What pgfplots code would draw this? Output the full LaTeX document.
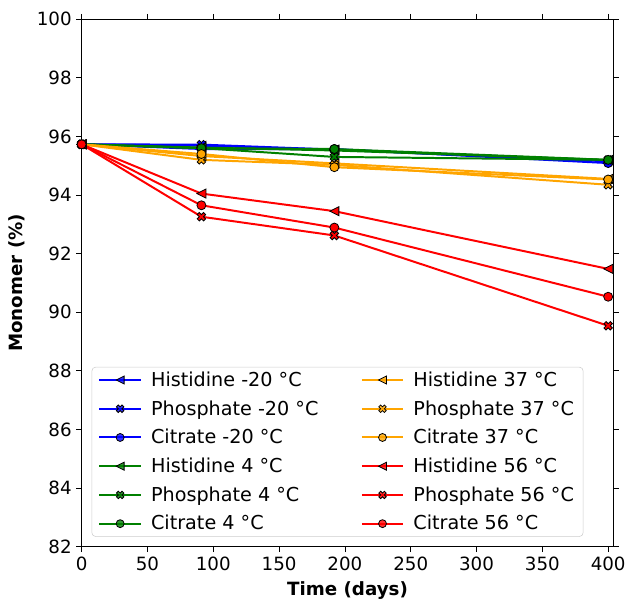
\documentclass[border=0pt]{standalone}
\usepackage{fontspec}
\setmainfont{DejaVu Sans}
\usepackage{pgfplots}
\pgfplotsset{compat=1.18}
\pgfdeclareplotmark{Xfill}{%
  \pgftransformrotate{45}%
  \pgfpathmoveto{\pgfqpoint{-0.333\pgfplotmarksize}{-\pgfplotmarksize}}%
  \pgfpathlineto{\pgfqpoint{0.333\pgfplotmarksize}{-\pgfplotmarksize}}%
  \pgfpathlineto{\pgfqpoint{0.333\pgfplotmarksize}{-0.333\pgfplotmarksize}}%
  \pgfpathlineto{\pgfqpoint{\pgfplotmarksize}{-0.333\pgfplotmarksize}}%
  \pgfpathlineto{\pgfqpoint{\pgfplotmarksize}{0.333\pgfplotmarksize}}%
  \pgfpathlineto{\pgfqpoint{0.333\pgfplotmarksize}{0.333\pgfplotmarksize}}%
  \pgfpathlineto{\pgfqpoint{0.333\pgfplotmarksize}{\pgfplotmarksize}}%
  \pgfpathlineto{\pgfqpoint{-0.333\pgfplotmarksize}{\pgfplotmarksize}}%
  \pgfpathlineto{\pgfqpoint{-0.333\pgfplotmarksize}{0.333\pgfplotmarksize}}%
  \pgfpathlineto{\pgfqpoint{-\pgfplotmarksize}{0.333\pgfplotmarksize}}%
  \pgfpathlineto{\pgfqpoint{-\pgfplotmarksize}{-0.333\pgfplotmarksize}}%
  \pgfpathlineto{\pgfqpoint{-0.333\pgfplotmarksize}{-0.333\pgfplotmarksize}}%
  \pgfpathclose
  \pgfusepathqfillstroke
}
\pgfdeclareplotmark{tril}{%
  \pgfpathmoveto{\pgfqpoint{-\pgfplotmarksize}{0pt}}%
  \pgfpathlineto{\pgfqpoint{\pgfplotmarksize}{-\pgfplotmarksize}}%
  \pgfpathlineto{\pgfqpoint{\pgfplotmarksize}{\pgfplotmarksize}}%
  \pgfpathclose
  \pgfusepathqfillstroke
}
\definecolor{mgreen}{RGB}{0,128,0}
\definecolor{morange}{RGB}{255,165,0}
\pgfplotsset{
  ser/.style={color=#1, line width=1.5pt, mark size=3.4pt,
    mark options={fill=#1, draw=black, line width=0.6pt, solid}},
  his/.style={ser=#1, mark=tril},
  pho/.style={ser=#1, mark=Xfill},
  cit/.style={ser=#1, mark=*},
}
\begin{document}
\begin{tikzpicture}[font=\fontsize{13.8pt}{16.5pt}\selectfont]
\begin{axis}[
  scale only axis,
  width=402pt, height=398.8pt,
  xmin=0, xmax=404, ymin=82, ymax=100,
  xtick={0,50,...,400}, ytick={82,84,...,100},
  tick align=outside, major tick length=4pt,
  tick style={black, line width=0.6pt},
  axis line style={line width=0.6pt},
  /pgf/number format/assume math mode=true,
  tick label style={font=\fontsize{13.8pt}{16.5pt}\selectfont},
  xlabel={\textbf{Time (days)}},
  ylabel={\textbf{Monomer (\%)}},
  xlabel style={at={(axis description cs:0.5,-0.083)}, anchor=center},
  ylabel style={at={(axis description cs:-0.121,0.5)}, anchor=center},
  legend columns=2,
  legend cell align=left,
  legend image code/.code={\draw[mark repeat=2,mark phase=2,mark size=3pt] plot coordinates {(0cm,0cm) (0.55cm,0cm) (1.1cm,0cm)};},
  legend style={at={(axis description cs:0.0187,0.0188)}, anchor=south west,
    draw=black!20, rounded corners=3pt, fill=white, fill opacity=0.8, text opacity=1,
    font=\fontsize{14.5pt}{17pt}\selectfont, row sep=5.2pt,
    inner xsep=5pt, inner ysep=1.5pt,
    /tikz/every odd column/.append style={column sep=5pt},
    /tikz/every even column/.append style={column sep=30pt}},
]
\coordinate (sw) at (rel axis cs:0,0);
\coordinate (ne) at (rel axis cs:1,1);
% -20 C
\addplot[his=blue, forget plot] coordinates {(0,95.73) (91,95.68) (192,95.55) (400,95.18)};
\addplot[pho=blue, forget plot] coordinates {(0,95.73) (91,95.72) (192,95.55) (400,95.15)};
\addplot[cit=blue, forget plot] coordinates {(0,95.73) (91,95.57) (192,95.57) (400,95.09)};
% 4 C
\addplot[his=mgreen, forget plot] coordinates {(0,95.73) (91,95.62) (192,95.52) (400,95.20)};
\addplot[pho=mgreen, forget plot] coordinates {(0,95.73) (91,95.60) (192,95.30) (400,95.20)};
\addplot[cit=mgreen, forget plot] coordinates {(0,95.73) (91,95.60) (192,95.57) (400,95.20)};
% 37 C
\addplot[his=morange, forget plot] coordinates {(0,95.73) (91,95.33) (192,95.08) (400,94.55)};
\addplot[pho=morange, forget plot] coordinates {(0,95.73) (91,95.20) (192,95.03) (400,94.35)};
\addplot[cit=morange, forget plot] coordinates {(0,95.73) (91,95.40) (192,94.95) (400,94.53)};
% 56 C
\addplot[his=red, forget plot] coordinates {(0,95.73) (91,94.05) (192,93.45) (400,91.48)};
\addplot[pho=red, forget plot] coordinates {(0,95.73) (91,93.26) (192,92.62) (400,89.54)};
\addplot[cit=red, forget plot] coordinates {(0,95.73) (91,93.65) (192,92.89) (400,90.53)};
% legend (column-wise order as in reference)
\addlegendimage{his=blue}\addlegendentry{Histidine -20 °C}
\addlegendimage{his=morange}\addlegendentry{Histidine 37 °C}
\addlegendimage{pho=blue}\addlegendentry{Phosphate -20 °C}
\addlegendimage{pho=morange}\addlegendentry{Phosphate 37 °C}
\addlegendimage{cit=blue}\addlegendentry{Citrate -20 °C}
\addlegendimage{cit=morange}\addlegendentry{Citrate 37 °C}
\addlegendimage{his=mgreen}\addlegendentry{Histidine 4 °C}
\addlegendimage{his=red}\addlegendentry{Histidine 56 °C}
\addlegendimage{pho=mgreen}\addlegendentry{Phosphate 4 °C}
\addlegendimage{pho=red}\addlegendentry{Phosphate 56 °C}
\addlegendimage{cit=mgreen}\addlegendentry{Citrate 4 °C}
\addlegendimage{cit=red}\addlegendentry{Citrate 56 °C}
\end{axis}
\path ([shift={(-61.7pt,-40.5pt)}]sw) rectangle ([shift={(8.8pt,14.5pt)}]ne);
\end{tikzpicture}
\end{document}
